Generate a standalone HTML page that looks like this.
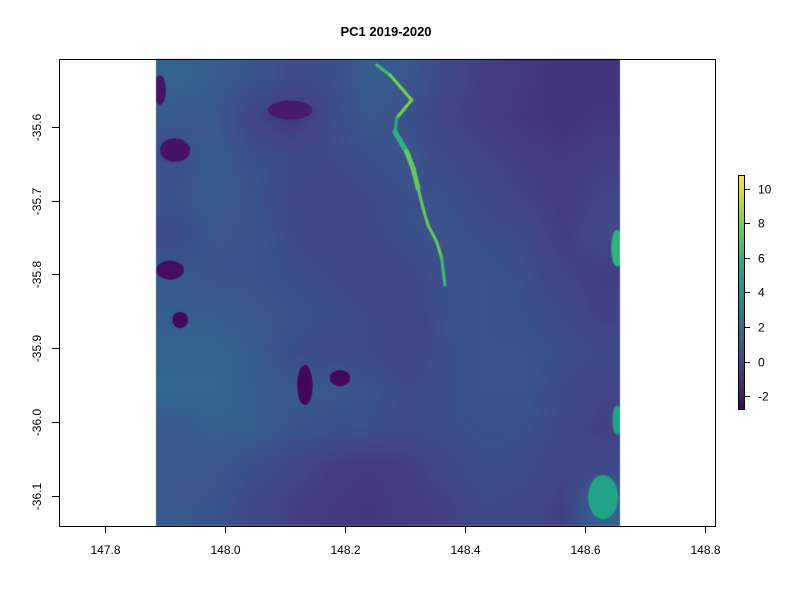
<!DOCTYPE html>
<html><head><meta charset="utf-8">
<style>
html,body{margin:0;padding:0;background:#fff;}
#wrap{position:relative;width:800px;height:600px;overflow:hidden;}
svg text{font-family:"Liberation Sans",Arial,sans-serif;}
canvas{position:absolute;left:0;top:0;}
</style></head>
<body>
<div id="wrap">
<canvas id="ras" width="800" height="600"></canvas>
<svg id="svg" width="800" height="600" style="position:absolute;left:0;top:0"></svg>
</div>
<script>
// ---- data ----
const xTicks = [147.8, 148.0, 148.2, 148.4, 148.6, 148.8];
const yTicks = [-35.6, -35.7, -35.8, -35.9, -36.0, -36.1];
const cbTicks = [-2, 0, 2, 4, 6, 8, 10];
const cbRange = [-2.75, 10.8];
const rasterLon = [147.8853, 148.6579];
const rasterLat = [-35.5084, -36.1403];
const gridValues = [
 [1.5,1.2,0.8,0.3,0.5,1.2,1.0,0.2,-0.3,-0.5,-0.8,-0.8],
 [1.0,1.0,0.0,-0.5,0.3,1.0,0.6,0.0,-0.3,-0.6,-0.8,-0.6],
 [0.5,1.2,0.6,0.3,0.3,0.6,0.8,0.3,0.0,-0.3,-0.5,-0.3],
 [0.8,1.2,0.8,0.2,0.0,0.3,0.6,0.6,0.2,-0.1,-0.4,0.0],
 [0.3,1.0,0.8,0.3,0.0,0.2,0.5,0.8,0.5,0.3,-0.3,0.2],
 [1.0,0.8,0.8,0.5,0.3,0.0,0.2,0.6,0.8,0.5,0.0,-0.3],
 [1.2,1.2,1.0,0.8,0.5,0.3,0.0,0.6,0.8,0.6,0.3,-0.2],
 [1.5,1.5,1.2,0.5,0.3,0.3,0.0,0.5,0.8,0.8,0.5,0.3],
 [1.6,1.6,1.2,1.0,1.0,0.8,0.3,0.5,0.8,0.8,0.3,0.0],
 [1.0,1.3,1.3,0.8,0.6,0.5,0.3,0.5,0.6,0.6,0.2,-0.2],
 [1.0,1.0,0.5,0.2,-0.3,-0.5,-0.3,0.2,0.5,0.4,0.0,0.3],
 [1.0,0.8,0.2,-0.2,-0.5,-0.6,-0.4,-0.2,0.3,0.2,-0.2,1.5]
];
const riverLon = [148.2528,148.2749,148.3111,148.2861,148.2833,148.3027,148.3132,148.3216,148.3299,148.3382,148.3527,148.3610,148.3665];
const riverLat = [-35.5165,-35.5300,-35.5639,-35.5882,-35.6072,-35.6338,-35.6559,-35.6829,-35.7100,-35.7330,-35.7556,-35.7777,-35.8143];
const riverVal = [7,6,10,6,5,7,8,7,8,7,8,7,6];
const blobLon = [148.6298,148.6532,148.6532,148.1333,148.1916,147.9088,147.9254,147.9170,148.1086,147.8919];
const blobLat = [-36.1012,-35.7644,-35.9970,-35.9496,-35.9401,-35.7940,-35.8617,-35.6317,-35.5775,-35.5504];
const blobRLon = [0.025,0.010,0.008,0.013,0.017,0.023,0.013,0.025,0.037,0.010];
const blobRLat = [0.030,0.025,0.020,0.027,0.011,0.013,0.011,0.016,0.013,0.020];
const blobVal = [5,6,5,-2.5,-2.5,-2.3,-2.5,-2,-1.8,-2];

// ---- scales ----
const PX_PER_DEG_X = 600.5, PX_PER_DEG_Y = 739;
const xS = lon => 104.8 + (lon - 147.8) * PX_PER_DEG_X;
const yS = lat => 126.7 - (lat + 35.6) * PX_PER_DEG_Y;
const cbTop = 175, cbBot = 409;
const cbS = v => cbBot - (v - cbRange[0]) / (cbRange[1] - cbRange[0]) * (cbBot - cbTop);

const VIR = ["#440154","#482475","#414487","#355f8d","#2a788e","#21918c","#22a884","#44bf70","#7ad151","#bddf26","#fde725"];
const hex = h => [parseInt(h.slice(1,3),16),parseInt(h.slice(3,5),16),parseInt(h.slice(5,7),16)];
const VR = VIR.map(hex);
function col(v){
  let t = (v - cbRange[0]) / (cbRange[1] - cbRange[0]);
  t = Math.max(0, Math.min(1, t)) * 10;
  const i = Math.min(9, Math.floor(t)), f = t - i;
  return VR[i].map((c,k)=>Math.round(c + (VR[i+1][k]-c)*f));
}
const rgb = v => { const c = col(v); return `rgb(${c[0]},${c[1]},${c[2]})`; };

// ---- raster ----
const cv = document.getElementById('ras'), ctx = cv.getContext('2d');
const x0 = Math.round(xS(rasterLon[0])), x1 = Math.round(xS(rasterLon[1]));
const y0 = Math.round(yS(rasterLat[0])), y1 = Math.round(yS(rasterLat[1]));
const nr = gridValues.length, nc = gridValues[0].length;
const img = ctx.createImageData(x1-x0, y1-y0);
for (let py=0; py<y1-y0; py++){
  const gy = Math.max(0, Math.min(nr-1.001, py/(y1-y0)*nr - 0.5));
  const r = Math.floor(gy), fy = gy - r, r2 = Math.min(nr-1, r+1);
  for (let px=0; px<x1-x0; px++){
    const gx = Math.max(0, Math.min(nc-1.001, px/(x1-x0)*nc - 0.5));
    const c = Math.floor(gx), fx = gx - c, c2 = Math.min(nc-1, c+1);
    const v = (gridValues[r][c]*(1-fx)+gridValues[r][c2]*fx)*(1-fy) + (gridValues[r2][c]*(1-fx)+gridValues[r2][c2]*fx)*fy;
    const cc = col(v), k = (py*(x1-x0)+px)*4;
    img.data[k]=cc[0]; img.data[k+1]=cc[1]; img.data[k+2]=cc[2]; img.data[k+3]=255;
  }
}
ctx.putImageData(img, x0, y0);
ctx.save();
ctx.beginPath(); ctx.rect(x0, y0, x1-x0, y1-y0); ctx.clip();
for (let i=0;i<blobLon.length;i++){
  ctx.fillStyle = rgb(blobVal[i]);
  ctx.beginPath();
  ctx.ellipse(xS(blobLon[i]), yS(blobLat[i]), blobRLon[i]*PX_PER_DEG_X, blobRLat[i]*PX_PER_DEG_Y, 0, 0, Math.PI*2);
  ctx.fill();
}
ctx.lineCap = 'round';
for (let i=0;i<riverLon.length-1;i++){
  ctx.strokeStyle = rgb((riverVal[i]+riverVal[i+1])/2);
  ctx.lineWidth = (i>=4 && i<=6) ? 5 : 3;
  ctx.beginPath();
  ctx.moveTo(xS(riverLon[i]), yS(riverLat[i]));
  ctx.lineTo(xS(riverLon[i+1]), yS(riverLat[i+1]));
  ctx.stroke();
}
ctx.restore();

// ---- svg frame ----
const svg = document.getElementById('svg'), NS = 'http://www.w3.org/2000/svg';
function mk(tag, attrs, parent){ const e = document.createElementNS(NS, tag); for (const k in attrs) e.setAttribute(k, attrs[k]); (parent||svg).appendChild(e); return e; }

const frame = mk('rect',{x:59.5,y:59.5,width:656,height:467,fill:'none',stroke:'#000','stroke-width':1});



const title = mk('text',{x:386,y:36,'text-anchor':'middle','font-size':13,'font-weight':'bold',fill:'#000'});
title.textContent = 'PC1 2019-2020';



xTicks.forEach(t=>{
  const x = Math.round(xS(t))+0.5;
  const ln = mk('line',{x1:x,x2:x,y1:526,y2:533,stroke:'#000'});
  
  
  const tx = mk('text',{x:x,y:554,'text-anchor':'middle','font-size':12,fill:'#000'});
  tx.textContent = t.toFixed(1);
  
  
});
yTicks.forEach(t=>{
  const y = Math.round(yS(t))+0.5;
  const ln = mk('line',{x1:52,x2:59.5,y1:y,y2:y,stroke:'#000'});
  
  
  const tx = mk('text',{x:41,y:y,'text-anchor':'middle','font-size':12,fill:'#000',transform:`rotate(-90 41 ${y})`});
  tx.textContent = t.toFixed(1);
  
  
});

// colorbar
const defs = mk('defs',{});
const lg = mk('linearGradient',{id:'vg',x1:0,y1:1,x2:0,y2:0},defs);
VIR.forEach((c,i)=>mk('stop',{offset:(i/10),'stop-color':c},lg));
const cb = mk('rect',{x:738.5,y:cbTop+0.5,width:6,height:cbBot-cbTop,fill:'url(#vg)',stroke:'#000','stroke-width':1});


cbTicks.forEach(t=>{
  const y = Math.round(cbS(t))+0.5;
  const ln = mk('line',{x1:744.5,x2:750,y1:y,y2:y,stroke:'#000'});
  
  
  const tx = mk('text',{x:758,y:y+4,'font-size':12,fill:'#000'});
  tx.textContent = String(t);
  
  
});
</script>
</body></html>
